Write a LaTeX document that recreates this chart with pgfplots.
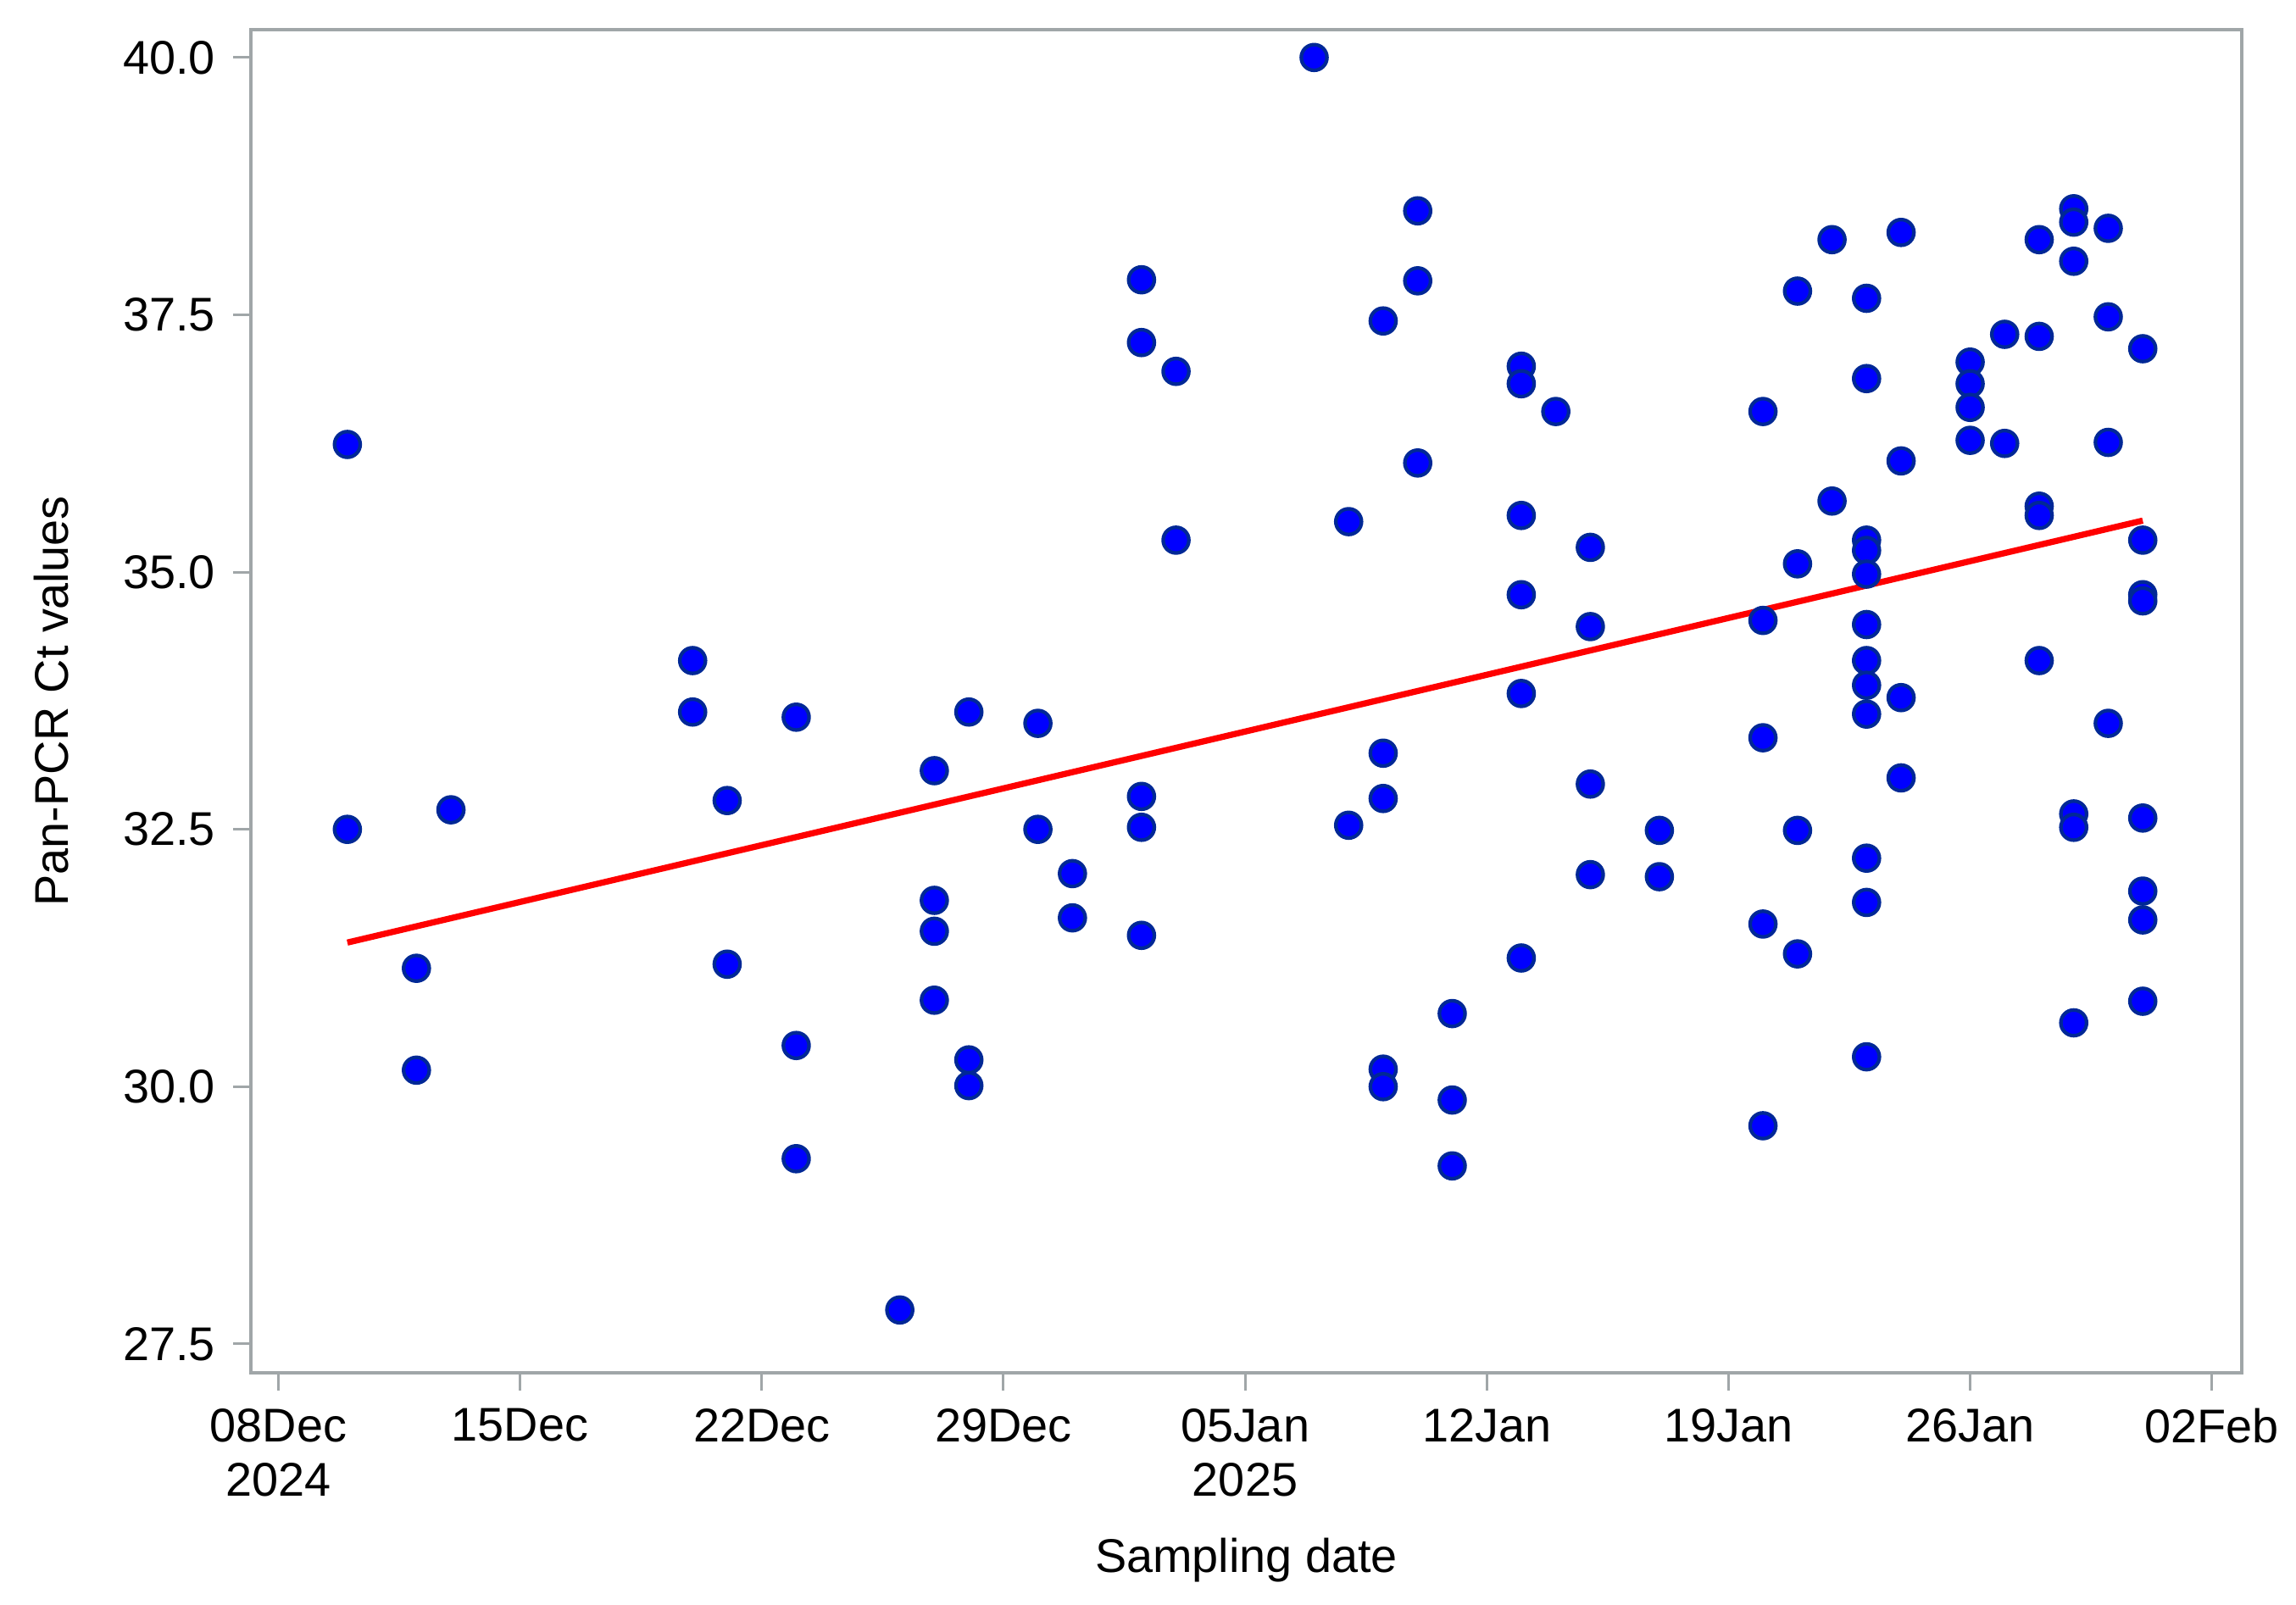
\documentclass[border=0pt]{standalone}
\usepackage{fontspec}
\setmainfont{Liberation Sans}
\usepackage{pgfplots}
\pgfplotsset{compat=1.18}
\usetikzlibrary{calc}

\definecolor{dotblue}{RGB}{0,0,255}
\definecolor{dotedge}{RGB}{0,40,150}
\definecolor{framegray}{RGB}{160,166,168}

% day 0 = 08Dec2024
\pgfplotstableread{
day ct
2 36.24
2 32.50
4 31.15
4 30.16
5 32.69
12 34.14
12 33.64
13 32.78
13 31.19
15 33.59
15 30.40
15 29.30
18 27.83
19 33.07
19 31.81
19 31.51
19 30.84
20 33.64
20 30.26
20 30.01
22 33.53
22 32.50
23 32.07
23 31.64
25 37.84
25 37.23
25 32.82
25 32.52
25 31.47
26 36.95
26 35.31
30 40.00
31 35.49
31 32.54
32 37.44
32 33.24
32 32.80
32 30.17
32 30.00
33 38.51
33 37.83
33 36.06
34 30.71
34 29.87
34 29.23
36 37.00
36 36.83
36 35.55
36 34.78
36 33.82
36 31.25
37 36.56
38 35.24
38 34.47
38 32.94
38 32.06
40 32.49
40 32.04
43 36.56
43 34.53
43 33.39
43 31.58
43 29.62
44 37.73
44 35.08
44 32.49
44 31.29
45 38.23
45 35.69
46 37.66
46 36.88
46 35.31
46 35.21
46 34.98
46 34.49
46 34.14
46 33.90
46 33.62
46 32.22
46 31.79
46 30.29
47 38.30
47 36.08
47 33.78
47 33.00
49 37.04
49 36.83
49 36.60
49 36.28
50 37.31
50 36.25
51 38.23
51 37.29
51 35.64
51 35.55
51 34.14
52 38.53
52 38.40
52 38.02
52 32.65
52 32.52
52 30.62
53 38.34
53 37.48
53 36.26
53 33.53
54 37.17
54 35.31
54 34.78
54 34.72
54 32.61
54 31.90
54 31.62
54 30.83
}\ctdata

\begin{document}
\begin{tikzpicture}
\begin{axis}[
    scale only axis,
    width=136.06mm,
    height=91.82mm,
    xmin=-0.79, xmax=56.86,
    ymin=27.22, ymax=40.27,
    xtick={0,7,...,56},
    xticklabels={{08Dec\\2024},15Dec,22Dec,29Dec,{05Jan\\2025},12Jan,19Jan,26Jan,02Feb},
    ytick={27.5,30,32.5,35,37.5,40},
    yticklabel style={/pgf/number format/.cd,fixed,fixed zerofill,precision=1,assume math mode=true},
    ticklabel style={font=\fontsize{9.2}{10.7}\selectfont},
    xticklabel style={align=center},
    tick align=outside,
    xtick pos=lower,
    ytick pos=left,
    major tick length=1.2mm,
    tick style={framegray, line width=0.5pt},
    axis line style={framegray, line width=0.7pt},
    xlabel={Sampling date},
    ylabel={Pan-PCR Ct values},
    label style={font=\fontsize{9.2}{11}\selectfont},
    xlabel style={at={(axis description cs:0.5,-0.1394)}, anchor=center},
    ylabel style={at={(axis description cs:-0.1004,0.5)}, anchor=center},
    clip=false,
]
\addplot[only marks, mark=*, mark size=2.5pt,
    mark options={fill=dotblue, draw=dotedge, line width=0.7pt}]
    table[x=day, y=ct] {\ctdata};
\addplot[red, line width=1.2pt] coordinates {(2,31.40) (54,35.50)};
\end{axis}
\path ($(current axis.south west)+(-17.16mm,-15.85mm)$) rectangle ($(current axis.north east)+(3.58mm,2.03mm)$);
\end{tikzpicture}
\end{document}
